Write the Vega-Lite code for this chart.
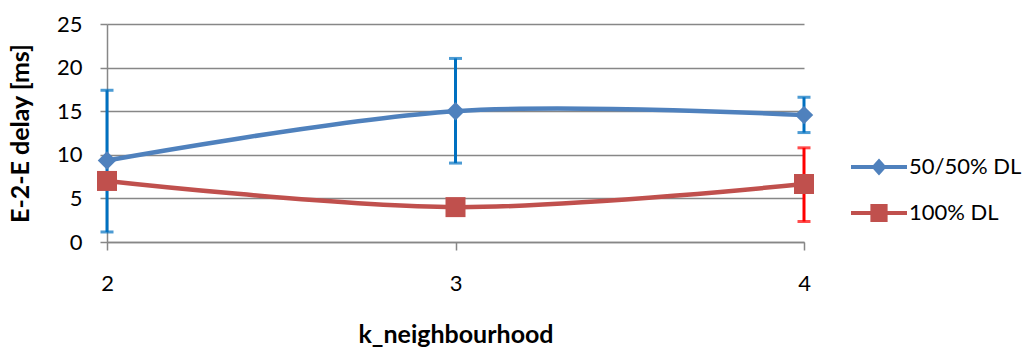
{
  "$schema": "https://vega.github.io/schema/vega-lite/v6.json",
  "width": 697,
  "height": 218,
  "autosize": "none",
  "padding": {"left": 107, "top": 24, "right": 225, "bottom": 107},
  "background": "white",
  "config": {
    "view": {"stroke": null},
    "font": "Lato"
  },
  "data": {
    "values": [
      {"series": "50/50% DL", "k": 2, "delay": 9.35, "lo": 1.15, "hi": 17.4},
      {"series": "50/50% DL", "k": 3, "delay": 15.0, "lo": 9.05, "hi": 21.05},
      {"series": "50/50% DL", "k": 4, "delay": 14.55, "lo": 12.55, "hi": 16.6},
      {"series": "100% DL", "k": 2, "delay": 7.0, "lo": null, "hi": null},
      {"series": "100% DL", "k": 3, "delay": 4.0, "lo": null, "hi": null},
      {"series": "100% DL", "k": 4, "delay": 6.65, "lo": 2.35, "hi": 10.8}
    ]
  },
  "encoding": {
    "x": {
      "field": "k", "type": "ordinal",
      "scale": {"type": "point", "padding": 0},
      "axis": {
        "grid": false, "title": "k_neighbourhood", "labelAngle": 0,
        "labelFont": "Lato", "labelFontSize": 22, "labelColor": "#000000",
        "titleFont": "Lato", "titleFontSize": 25, "titleFontWeight": "bold", "titleColor": "#000000",
        "domainColor": "#878787", "domainWidth": 1.5, "tickColor": "#878787", "tickWidth": 1.5,
        "tickSize": 8, "labelPadding": 23, "titlePadding": 28
      }
    }
  },
  "layer": [
    {
      "transform": [{"filter": "isValid(datum.lo)"}],
      "mark": {"type": "rule", "strokeWidth": 3},
      "encoding": {
        "y": {"field": "lo", "type": "quantitative"},
        "y2": {"field": "hi"},
        "color": {"condition": {"test": "datum.series === '100% DL'", "value": "#FF0000"}, "value": "#0070C0"}
      }
    },
    {
      "transform": [{"filter": "isValid(datum.lo)"}],
      "mark": {"type": "tick", "orient": "horizontal", "size": 13, "thickness": 3},
      "encoding": {
        "y": {"field": "lo", "type": "quantitative"},
        "color": {"condition": {"test": "datum.series === '100% DL'", "value": "#FF0000"}, "value": "#0070C0"}
      }
    },
    {
      "transform": [{"filter": "isValid(datum.hi)"}],
      "mark": {"type": "tick", "orient": "horizontal", "size": 13, "thickness": 3},
      "encoding": {
        "y": {"field": "hi", "type": "quantitative"},
        "color": {"condition": {"test": "datum.series === '100% DL'", "value": "#FF0000"}, "value": "#0070C0"}
      }
    },
    {
      "mark": {"type": "line", "interpolate": "cardinal", "tension": 0, "strokeWidth": 4.5},
      "encoding": {
        "y": {
          "field": "delay", "type": "quantitative",
          "scale": {"domain": [0, 25], "nice": false},
          "axis": {
            "values": [0, 5, 10, 15, 20, 25], "grid": true, "title": "E-2-E delay [ms]",
            "labelFont": "Lato", "labelFontSize": 22, "labelColor": "#000000",
            "titleFont": "Lato", "titleFontSize": 25, "titleFontWeight": "bold", "titleColor": "#000000",
            "domainColor": "#878787", "domainWidth": 1.5, "tickColor": "#878787", "tickWidth": 1.5,
            "gridColor": "#878787", "gridWidth": 1.5,
            "tickSize": 7, "labelPadding": 18, "titlePadding": 23
          }
        },
        "color": {
          "field": "series", "type": "nominal",
          "scale": {"domain": ["50/50% DL", "100% DL"], "range": ["#4F81BD", "#C0504D"]},
          "legend": {
            "title": null, "orient": "none", "legendX": 752, "legendY": 123,
            "padding": 0, "symbolSize": 1600, "rowPadding": 15, "labelOffset": 10,
            "labelFont": "Lato", "labelFontSize": 22, "labelColor": "#000000",
            "encode": {
              "symbols": {
                "update": {
                  "shape": {"signal": "datum.value === '50/50% DL' ? 'M-1.4,-0.1H1.4V0.1H-1.4Z M-0.38,0L0,-0.43L0.38,0L0,0.43Z' : 'M-1.4,-0.1H1.4V0.1H-1.4Z M-0.43,-0.45H0.43V0.45H-0.43Z'"},
                  "fill": {"signal": "datum.value === '50/50% DL' ? '#4F81BD' : '#C0504D'"},
                  "stroke": {"value": "transparent"},
                  "strokeWidth": {"value": 0},
                  "opacity": {"value": 1}
                }
              }
            }
          }
        }
      }
    },
    {
      "mark": {"type": "point", "filled": true, "opacity": 1},
      "encoding": {
        "y": {"field": "delay", "type": "quantitative"},
        "color": {"field": "series", "type": "nominal"},
        "shape": {"condition": {"test": "datum.series === '100% DL'", "value": "square"}, "value": "diamond"},
        "size": {"condition": {"test": "datum.series === '100% DL'", "value": 400}, "value": 340}
      }
    }
  ]
}
